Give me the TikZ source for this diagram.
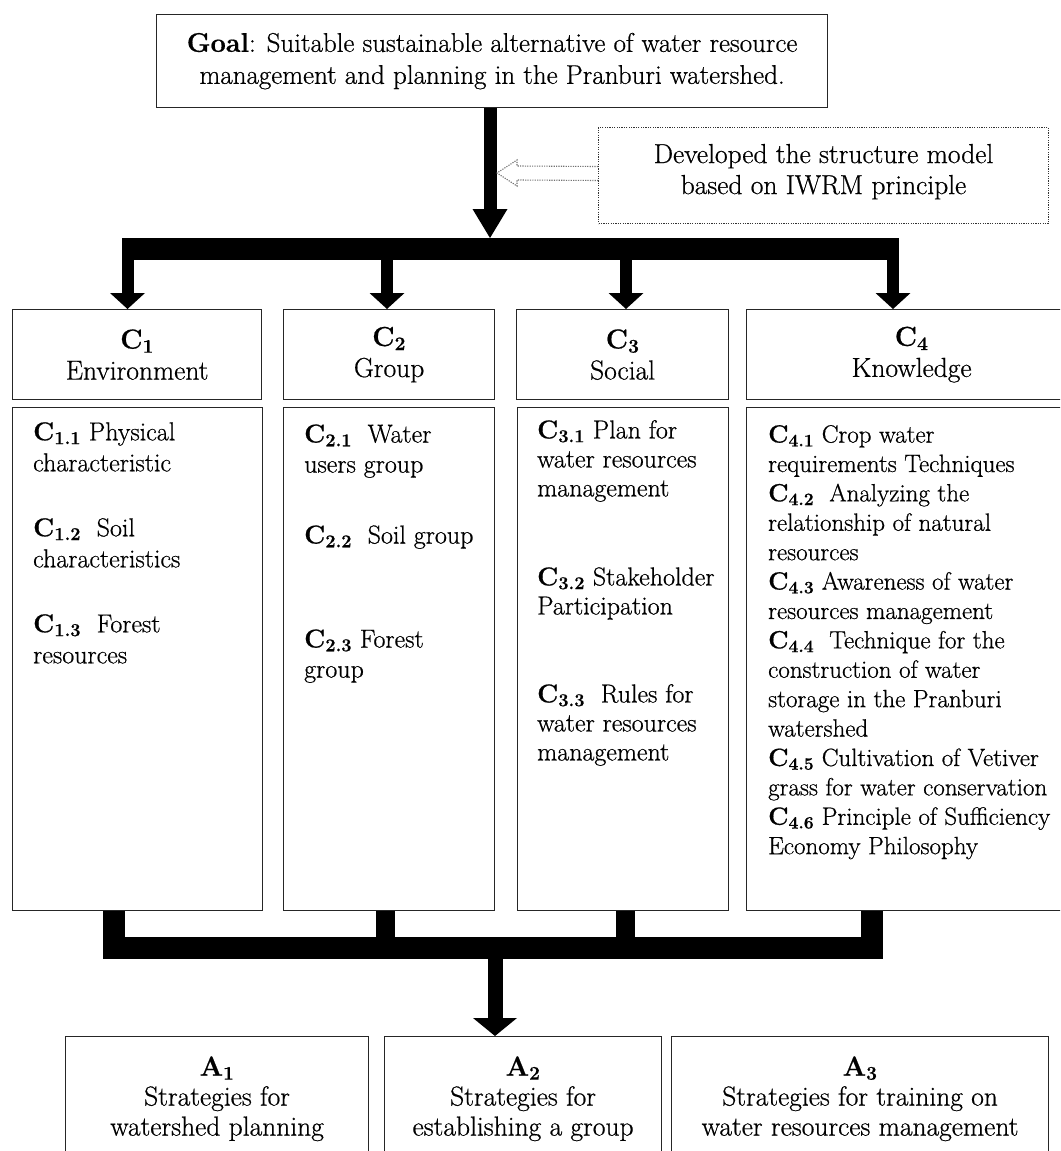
\documentclass[tikz,border=0pt]{standalone}
\usepackage{fontspec}
\setmainfont{Latin Modern Roman}[FakeBold=0.6]
\usetikzlibrary{arrows.meta,calc}
\newcommand{\Cx}[1]{\textbf{C}\textsubscript{\textbf{#1}}}
\newcommand{\Ax}[1]{\textbf{A}\textsubscript{\textbf{#1}}}
\begin{document}
\begin{tikzpicture}[x=1pt,y=-1pt,
  box/.style={draw=black!85, line width=1.2pt, inner sep=0pt, anchor=north west, fill=white},
  dotbox/.style={draw=black!80, line width=1pt, dash pattern=on 1.2pt off 1.2pt, inner sep=0pt, anchor=north west},
  hollow/.style={draw=black!55, line width=1.1pt, dash pattern=on 1.2pt off 1.2pt, line join=miter},
  bigtxt/.style={font=\fontsize{27.5}{31}\selectfont, align=center},
  dtxt/.style={align=left, inner sep=0pt, anchor=north west},
  atxt/.style={font=\fontsize{27.5}{30}\selectfont, align=center, inner sep=0pt, anchor=north},
  mainarrow/.style={line width=13pt, -{Triangle[width=35pt,length=29pt,line width=0pt]}},
  downarrow/.style={line width=12pt, -{Triangle[width=35pt,length=16pt,line width=0pt]}},
  outarrow/.style={line width=15pt, -{Triangle[width=44pt,length=18pt,line width=0pt]}},
  barline/.style={line width=22pt},
]
\useasboundingbox (0,0) rectangle (1060,1151);
\fill[white] (0,0) rectangle (1060,1151);
\clip (0,0) rectangle (1060,1151);

% goal and model boxes
\node[box, bigtxt, font=\fontsize{27}{32}\selectfont, minimum width=671pt, minimum height=93pt] (goal) at (156,14)
  {\textbf{Goal}: Suitable sustainable alternative of water resource\\management and planning in the Pranburi watershed.};
\node[dotbox, bigtxt, text depth=13pt, minimum width=450pt, minimum height=96pt] (dev) at (598,127)
  {Developed the structure model\\based on IWRM principle};

% criteria headers
\node[box, bigtxt, minimum width=249pt, minimum height=90pt] (c1h) at (12,309) {\Cx{1}\\Environment};
\node[box, bigtxt, minimum width=211pt, minimum height=90pt] (c2h) at (283,309) {\Cx{2}\\Group};
\node[box, bigtxt, minimum width=212pt, minimum height=90pt] (c3h) at (516,309) {\Cx{3}\\Social};
\node[box, bigtxt, minimum width=330pt, minimum height=90pt] (c4h) at (746,309) {\Cx{4}\\Knowledge};

% criteria detail boxes
\node[box, minimum width=250pt, minimum height=503pt] (c1d) at (12,407) {};
\node[box, minimum width=211pt, minimum height=503pt] (c2d) at (283,407) {};
\node[box, minimum width=211pt, minimum height=503pt] (c3d) at (517,407) {};
\node[box, minimum width=330pt, minimum height=503pt] (c4d) at (746,407) {};

\node[dtxt, font=\fontsize{26}{31}\selectfont] (c1t) at (33,422)
  {\Cx{1.1} Physical\\characteristic\\[34pt]\Cx{1.2}~ Soil\\characteristics\\[34pt]\Cx{1.3}~ Forest\\resources};
\node[dtxt, font=\fontsize{26}{30}\selectfont] (c2t) at (304,424.2)
  {\Cx{2.1}~ Water\\users group\\[41pt]\Cx{2.2}~ Soil group\\[74pt]\Cx{2.3} Forest\\group};
\node[dtxt, font=\fontsize{26}{29}\selectfont] (c3t) at (537,420)
  {\Cx{3.1} Plan for\\water resources\\management\\[60pt]\Cx{3.2} Stakeholder\\Participation\\[59pt]\Cx{3.3}~ Rules for\\water resources\\management};
\node[dtxt, font=\fontsize{25}{29.4}\selectfont] (c4t) at (768,424.9)
  {\Cx{4.1} Crop water\\requirements Techniques\\\Cx{4.2}~ Analyzing the\\relationship of natural\\resources\\\Cx{4.3} Awareness of water\\resources management\\\Cx{4.4}~ Technique for the\\construction of water\\storage in the Pranburi\\watershed\\\Cx{4.5} Cultivation of Vetiver\\grass for water conservation\\\Cx{4.6} Principle of Sufficiency\\Economy Philosophy};

% alternatives
\node[box, minimum width=303pt, minimum height=150pt] (a1) at (65,1036) {};
\node[box, minimum width=277pt, minimum height=150pt] (a2) at (384,1036) {};
\node[box, minimum width=377pt, minimum height=150pt] (a3) at (671,1036) {};
\node[atxt] (a1t) at ($(a1.north)+(0,20.1)$) {\Ax{1}\\Strategies for\\watershed planning};
\node[atxt] (a2t) at ($(a2.north)+(0,20.1)$) {\Ax{2}\\Strategies for\\establishing a group};
\node[atxt] (a3t) at ($(a3.north)+(0,20.1)$) {\Ax{3}\\Strategies for training on\\water resources management};

% top connectors
\coordinate (mtip) at (490,238);
\draw[mainarrow] (goal.south -| mtip) -- (mtip);
\coordinate (barL) at (122,249);
\coordinate (barR) at (899,249);
\draw[barline] (barL) -- (barR);
\coordinate (t1) at (127.5,249);
\coordinate (t2) at (387,249);
\coordinate (t3) at (626,249);
\coordinate (t4) at (893,249);
\draw[downarrow] (t1) -- (t1 |- c1h.north);
\draw[downarrow] (t2) -- (t2 |- c2h.north);
\draw[downarrow] (t3) -- (t3 |- c3h.north);
\draw[downarrow] (t4) -- (t4 |- c4h.north);

% hollow dotted arrow from the model box
\coordinate (htip) at (497,173);
\draw[hollow] ($(dev.west)+(0,-9)$) -- (517,166) -- (517,160) -- (htip) -- (517,186) -- (517,180) -- ($(dev.west)+(0,5)$);

% bottom connectors
\coordinate (b1) at (114,948);
\coordinate (b2) at (385.5,948);
\coordinate (b3) at (625.5,948);
\coordinate (b4) at (872,948);
\coordinate (b0) at (495,948);
\draw[barline, line join=miter] (b1 |- c1d.south) -- (b1) -- (b4) -- (b4 |- c4d.south);
\draw[line width=19pt] (b2 |- c2d.south) -- (b2);
\draw[line width=19pt] (b3 |- c3d.south) -- (b3);
\draw[outarrow] (b0) -- (b0 |- a2.north);
\end{tikzpicture}
\end{document}
